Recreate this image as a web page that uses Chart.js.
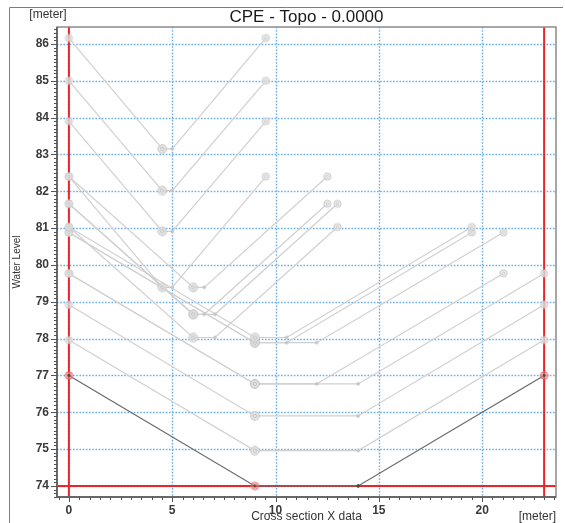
<!DOCTYPE html>
<html>
<head>
<meta charset="utf-8">
<title>CPE - Topo - 0.0000</title>
<script src="https://cdn.jsdelivr.net/npm/chart.js@4.4.1/dist/chart.umd.min.js"></script>
<style>
  html, body { margin: 0; padding: 0; background: #fff; }
  #wrap { width: 565px; height: 523px; }
</style>
</head>
<body>
<div id="wrap"><canvas id="chart" width="565" height="523"></canvas></div>
<script>
// Trapezoid profiles: left bank at x = 0, flat bed, right bank back at water level
const waterLevels = [86.16, 85.0, 83.9, 82.4, 82.4, 81.66, 81.66, 81.03, 81.03, 80.88, 80.88, 79.77, 79.77, 78.92, 77.96];
const bedLevels   = [83.15, 82.02, 80.91, 79.39, 79.39, 78.66, 78.66, 78.03, 78.03, 77.89, 77.89, 76.77, 76.77, 75.9, 74.96];
const bedLeftX    = [4.52, 4.52, 4.52, 4.52, 6.02, 6.02, 6.02, 6.02, 9.0, 9.0, 9.0, 9.0, 9.0, 9.0, 9.0];
const bedRightX   = [5.0, 5.0, 5.0, 5.0, 6.55, 6.55, 7.07, 7.07, 10.54, 10.54, 11.99, 11.99, 14.0, 14.0, 14.0];
const bankRightX  = [9.53, 9.53, 9.53, 9.53, 12.51, 12.51, 13.0, 13.0, 19.5, 19.5, 21.03, 21.03, 23.0, 23.0, 23.0];

// current section
const sectionX = [0, 9, 14, 23];
const sectionZ = [77, 74, 74, 77];

// limit markers
const markerX = [0, 23];
const markerZ = 74;

const xTickValues = [0, 5, 10, 15, 20];
const yTickValues = [74, 75, 76, 77, 78, 79, 80, 81, 82, 83, 84, 85, 86];

const X_MIN = -0.575, X_MAX = 23.575;
const Y_MIN = 73.7, Y_MAX = 86.46;

Chart.defaults.font.family = "'Liberation Sans', Arial, sans-serif";

function marker(r, stroke, fill, inner) {
  const c = document.createElement('canvas');
  const s = Math.ceil(2 * r + 3);
  c.width = c.height = s;
  const g = c.getContext('2d');
  const m = s / 2;
  g.beginPath();
  g.arc(m, m, r, 0, Math.PI * 2);
  g.fillStyle = fill;
  g.fill();
  g.lineWidth = 1;
  g.strokeStyle = stroke;
  g.stroke();
  if (inner) {
    g.beginPath();
    g.arc(m, m, inner, 0, Math.PI * 2);
    g.stroke();
  }
  return c;
}

const ringSmall = marker(3.6, '#c8c8c8', 'rgba(235,235,235,0.7)', 1.5);
const ringBig = marker(4.3, '#c4c4c4', 'rgba(228,228,228,0.8)', 1.8);
const dotGray = marker(1.3, '#c0c0c0', '#cdcdcd');
const dotDark = marker(1.4, '#444', '#555');

// red highlight with a dark centre for the current section ends
function redEnd() {
  const c = marker(3.8, 'rgba(230,90,90,0.8)', 'rgba(240,130,130,0.55)', 0);
  const g = c.getContext('2d');
  const m = c.width / 2;
  g.beginPath();
  g.arc(m, m, 1.4, 0, Math.PI * 2);
  g.fillStyle = '#444';
  g.fill();
  return c;
}
const ringRed = redEnd();

const datasets = [];

markerX.forEach(x => {
  datasets.push({
    data: [{x: x, y: Y_MIN}, {x: x, y: Y_MAX}],
    borderColor: '#e8262a', borderWidth: 2, pointRadius: 0, order: 3
  });
});
datasets.push({
  data: [{x: X_MIN, y: markerZ}, {x: X_MAX, y: markerZ}],
  borderColor: '#e8262a', borderWidth: 2, pointRadius: 0, order: 3
});

waterLevels.forEach((z, i) => {
  datasets.push({
    data: [
      {x: 0, y: z},
      {x: bedLeftX[i], y: bedLevels[i]},
      {x: bedRightX[i], y: bedLevels[i]},
      {x: bankRightX[i], y: z}
    ],
    borderColor: '#d0d0d0', borderWidth: 1.2,
    pointStyle: [ringSmall, ringBig, dotGray, ringSmall],
    pointRadius: 3, order: 2
  });
});

datasets.push({
  data: sectionX.map((x, i) => ({x: x, y: sectionZ[i]})),
  borderColor: '#6a6a6a', borderWidth: 1.3,
  pointStyle: [ringRed, ringRed, dotDark, ringRed],
  pointRadius: 3, order: 1
});

// dotted grid, frame, ruler ticks and captions
const decor = {
  id: 'decor',
  beforeDraw(chart) {
    const ctx = chart.ctx;
    ctx.save();
    ctx.strokeStyle = '#7c7c7c';
    ctx.lineWidth = 1;
    ctx.beginPath();
    ctx.moveTo(9.5, 523);
    ctx.lineTo(9.5, 7.5);
    ctx.lineTo(563, 7.5);
    ctx.stroke();
    ctx.restore();
  },
  beforeDatasetsDraw(chart) {
    const {ctx, chartArea: a, scales: {x, y}} = chart;
    ctx.save();
    ctx.strokeStyle = '#6aaee8';
    ctx.lineWidth = 1.4;
    ctx.setLineDash([1.6, 1.6]);
    ctx.beginPath();
    xTickValues.forEach(v => {
      const px = Math.round(x.getPixelForValue(v)) + 0.5;
      ctx.moveTo(px, a.top);
      ctx.lineTo(px, a.bottom);
    });
    yTickValues.forEach(v => {
      const py = Math.round(y.getPixelForValue(v)) + 0.5;
      ctx.moveTo(a.left, py);
      ctx.lineTo(a.right, py);
    });
    ctx.stroke();
    ctx.restore();
  },
  afterDatasetsDraw(chart) {
    const {ctx, chartArea: a, scales: {x, y}} = chart;
    ctx.save();
    // frame
    ctx.strokeStyle = '#8a8a8a';
    ctx.lineWidth = 1.5;
    ctx.strokeRect(a.left, a.top, a.right - a.left, a.bottom - a.top);
    ctx.strokeStyle = '#555';
    ctx.beginPath();
    ctx.moveTo(a.left, a.top);
    ctx.lineTo(a.left, a.bottom);
    ctx.lineTo(a.right, a.bottom);
    ctx.stroke();
    // ruler ticks
    ctx.lineWidth = 1;
    ctx.strokeStyle = '#555';
    ctx.beginPath();
    for (let k = Math.ceil(Y_MIN * 10); k <= Math.floor(Y_MAX * 10); k++) {
      const py = Math.round(y.getPixelForValue(k / 10)) + 0.5;
      const len = k % 10 === 0 ? 6 : 3;
      ctx.moveTo(a.left, py);
      ctx.lineTo(a.left - len, py);
    }
    for (let k = Math.ceil(X_MIN * 2); k <= Math.floor(X_MAX * 2); k++) {
      const px = Math.round(x.getPixelForValue(k / 2)) + 0.5;
      const len = k % 10 === 0 ? 5 : 3;
      ctx.moveTo(px, a.bottom);
      ctx.lineTo(px, a.bottom + len);
    }
    ctx.stroke();
    ctx.restore();
  },
  afterDraw(chart) {
    const {ctx, chartArea: a} = chart;
    const cx = (a.left + a.right) / 2;
    ctx.save();
    ctx.fillStyle = '#1a1a1a';
    ctx.textBaseline = 'middle';
    ctx.textAlign = 'center';
    ctx.font = "17px 'Liberation Sans', Arial, sans-serif";
    ctx.fillText('CPE - Topo - 0.0000', cx, 17);
    ctx.fillStyle = '#333';
    ctx.font = "12px 'Liberation Sans', Arial, sans-serif";
    ctx.fillText('[meter]', 48, 15);
    ctx.fillText('Cross section X data', cx, 517);
    ctx.textAlign = 'right';
    ctx.fillText('[meter]', a.right, 517);
    ctx.translate(17.5, (a.top + a.bottom) / 2);
    ctx.rotate(-Math.PI / 2);
    ctx.textAlign = 'center';
    ctx.font = "10px 'Liberation Sans', Arial, sans-serif";
    ctx.fillText('Water Level', 0, 0);
    ctx.restore();
  }
};

new Chart(document.getElementById('chart'), {
  type: 'line',
  data: { datasets: datasets },
  options: {
    responsive: false,
    devicePixelRatio: 1,
    animation: false,
    layout: { padding: { left: 0, top: 27, right: 9, bottom: 0 } },
    plugins: { legend: { display: false }, tooltip: { enabled: false }, title: { display: false } },
    scales: {
      x: {
        type: 'linear', min: X_MIN, max: X_MAX,
        grid: { display: false, drawTicks: false },
        border: { display: false },
        ticks: { color: '#3a3a3a', font: { size: 12, weight: 'bold' }, padding: 6 },
        afterBuildTicks(s) { s.ticks = xTickValues.map(v => ({value: v})); },
        afterFit(s) { s.height = 26; }
      },
      y: {
        type: 'linear', min: Y_MIN, max: Y_MAX,
        grid: { display: false, drawTicks: false },
        border: { display: false },
        ticks: { color: '#3a3a3a', font: { size: 12, weight: 'bold' }, padding: 8 },
        afterBuildTicks(s) { s.ticks = yTickValues.map(v => ({value: v})); },
        afterFit(s) { s.width = 57; }
      }
    }
  },
  plugins: [decor]
});
</script>
</body>
</html>
